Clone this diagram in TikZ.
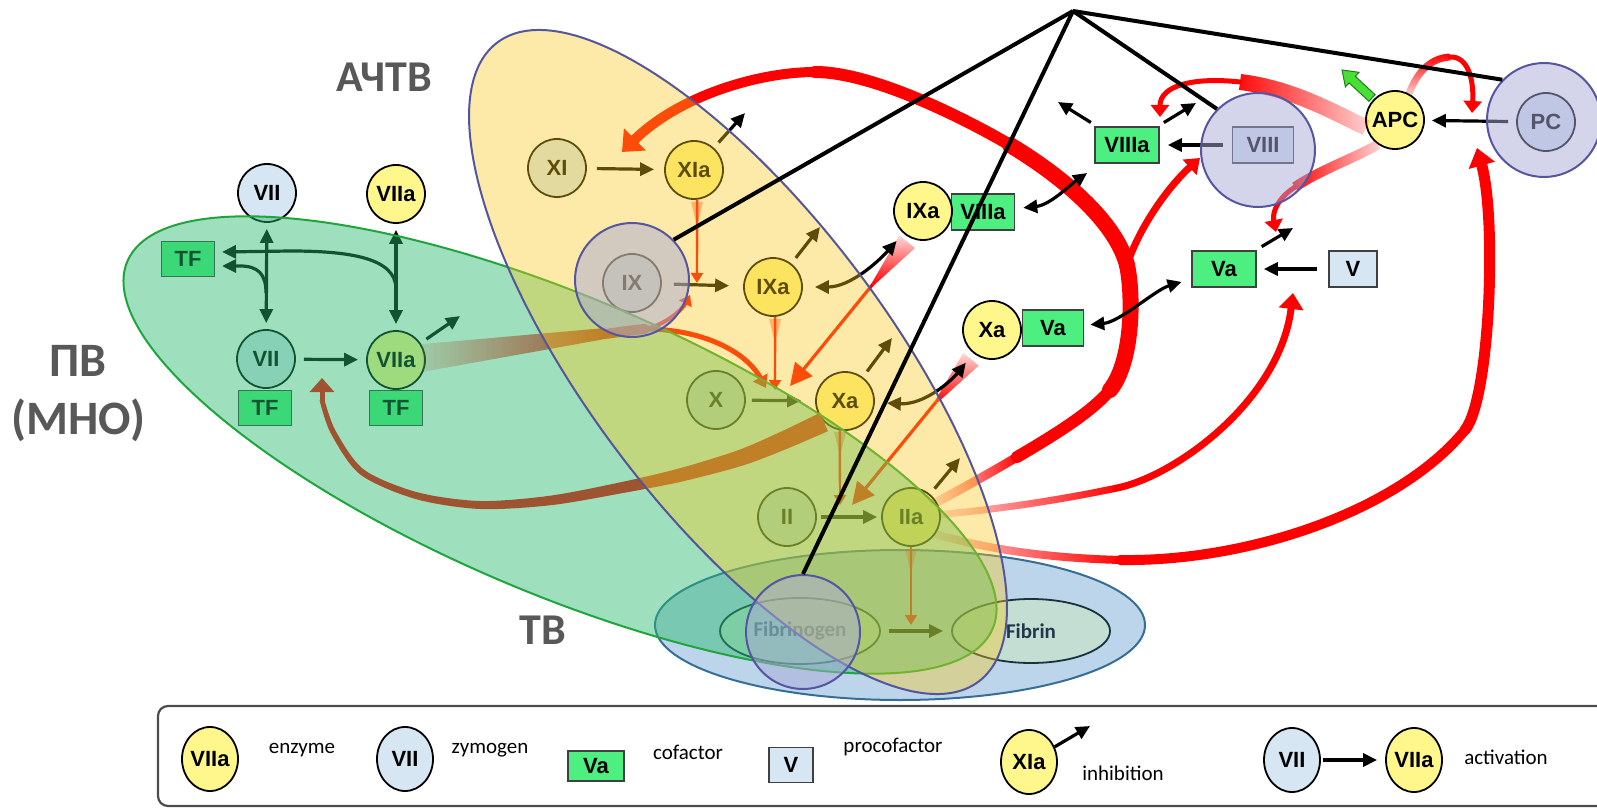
\documentclass[tikz,border=0pt]{standalone}
\usepackage{fontspec}
\setmainfont{Liberation Sans}
\newfontfamily\calib{Carlito}
\usetikzlibrary{arrows.meta,shapes.geometric,fadings}

\definecolor{enzC}{RGB}{255,246,140}
\definecolor{zymC}{RGB}{214,230,242}
\definecolor{cofC}{RGB}{77,240,128}
\definecolor{proC}{RGB}{214,230,242}
\definecolor{greenFill}{RGB}{40,187,109}
\definecolor{greenLine}{RGB}{30,165,60}
\definecolor{yelFill}{RGB}{249,200,27}
\definecolor{yelLine}{RGB}{85,85,155}
\definecolor{blueFill}{RGB}{63,134,197}
\definecolor{blueLine}{RGB}{55,110,150}
\definecolor{purFill}{RGB}{169,169,215}
\definecolor{purLine}{RGB}{85,85,160}
\definecolor{labelGray}{RGB}{88,88,88}
\definecolor{fibC}{RGB}{196,222,212}
\definecolor{fibLine}{RGB}{25,50,60}
\definecolor{fibText}{RGB}{35,55,75}
\definecolor{apcGreen}{RGB}{70,225,50}
\definecolor{apcEdge}{RGB}{40,120,40}

\tikzfading[name=fadeR, left color=transparent!85, right color=transparent!0]
\tikzfading[name=fadeL, left color=transparent!0, right color=transparent!85]
\tikzfading[name=fadeU, bottom color=transparent!85, top color=transparent!0]
\tikzfading[name=fadeD, top color=transparent!85, bottom color=transparent!0]

\tikzset{
  nodefont/.style={font=\bfseries\fontsize{11}{12}\selectfont},
  enz/.style={circle, draw=black, line width=0.9pt, fill=enzC, minimum size=29pt, inner sep=0pt, nodefont},
  zym/.style={enz, fill=zymC},
  cof/.style={rectangle, draw=black!75, line width=0.8pt, fill=cofC, minimum width=32pt, minimum height=18pt, inner sep=0pt, nodefont},
  procof/.style={cof, fill=proC},
  tf/.style={cof, minimum width=26.5pt, minimum height=17.5pt},
  legell/.style={ellipse, minimum width=28pt, minimum height=32pt},
  bigc/.style={circle, draw=purLine, line width=1pt, fill=purFill, fill opacity=0.5, minimum size=57pt, inner sep=0pt},
  act/.style={line width=1.6pt, -{Triangle[length=7pt,width=6.5pt]}, shorten <=4pt, shorten >=4pt},
  inh/.style={act, shorten <=3.5pt, shorten >=0pt},
  dbl/.style={line width=1.6pt, {Triangle[length=7pt,width=6.5pt]}-{Triangle[length=7pt,width=6.5pt]}, shorten <=5pt, shorten >=5pt},
  apexline/.style={line width=2pt, black},
  bandr/.style={draw=red, line cap=butt},
  bands/.style={draw=red, line cap=round},
  thinr/.style={red, line width=1.2pt, -{Triangle[length=5pt,width=6pt]}},
  wedge/.style={fill=red, fill opacity=0.35},
  biglabel/.style={font=\calib\bfseries\fontsize{22}{26}\selectfont, text=labelGray, align=center},
  legtext/.style={font=\calib\fontsize{10.5}{12}\selectfont},
  legframe/.style={draw=black!70, line width=1.1pt, rounded corners=5pt},
  fibnode/.style={ellipse, draw=fibLine, line width=0.9pt, fill=fibC, inner sep=0pt, text=fibText, font=\calib\bfseries\fontsize{10.5}{12}\selectfont}
}

\begin{document}
\begin{tikzpicture}[x=0.5pt, y=-0.5pt]
\useasboundingbox (0,0) rectangle (1597,808);
\clip (0,0) rectangle (1597,808);

% ---------- legend ----------
\draw[legframe] (158,706) rectangle (1680,806);
\node[enz, legell] (Lenz) at (210,759) {VIIa};
\node[legtext] (tEnz) at (302,750) {enzyme};
\node[zym, legell] (Lzym) at (405,759) {VII};
\node[legtext] (tZym) at (490,750) {zymogen};
\node[cof, minimum width=28pt, minimum height=15pt] (Lcof) at (596,766) {Va};
\node[legtext] (tCof) at (688,752) {cofactor};
\node[procof, minimum width=22pt, minimum height=17.5pt] (Lpro) at (791,765) {V};
\node[legtext] (tPro) at (893,747) {procofactor};
\node[enz, legell] (Linh) at (1029,762) {XIa};
\coordinate (LinhEnd) at (1090,726);
\draw[inh, shorten <=0pt] (Linh) -- (LinhEnd);
\node[legtext] (tInh) at (1123,773) {inhibition};
\node[zym, legell] (LVII) at (1292,760) {VII};
\node[enz, legell] (LVIIa) at (1414,760) {VIIa};
\draw[act, shorten <=1pt] (LVII) -- (LVIIa);
\node[legtext] (tAct) at (1506,757) {activation};

% ---------- thrombin time region ----------
\filldraw[fill=blueFill, fill opacity=0.35, draw=blueLine, line width=1pt] (900,625) ellipse [x radius=122.5pt, y radius=37.5pt];
\node[fibnode, minimum width=80pt, minimum height=33pt] (Fgen) at (800,631) {Fibrinogen};
\node[fibnode, minimum width=79pt, minimum height=32pt] (Fin) at (1031,631) {Fibrin};

% ---------- factors ----------
\node[zym] (VIIt) at (267,193) {VII};
\node[enz] (VIIat) at (396,194) {VIIa};
\node[tf] (TFt) at (188,259) {TF};
\node[zym] (VIIl) at (266,359) {VII};
\node[tf] (TFl) at (265,408) {TF};
\node[enz] (VIIal) at (396,360) {VIIa};
\node[tf] (TFal) at (396,408) {TF};

\node[zym] (XI) at (557,168) {XI};
\node[enz] (XIa) at (694,170) {XIa};
\node[zym] (IX) at (632,283) {IX};
\node[enz] (IXa) at (773,287) {IXa};
\node[zym] (X) at (716,400) {X};
\node[enz] (Xa) at (845,401) {Xa};
\node[zym] (II) at (787,517) {II};
\node[enz] (IIa) at (911,517) {IIa};

\node[cof, minimum width=31.5pt] (VIIIc) at (983,212) {VIIIa};
\node[enz] (IXc) at (923,211) {IXa};
\node[cof, minimum width=30.5pt] (Vc) at (1053,328) {Va};
\node[enz] (Xc) at (992,330) {Xa};

\node[cof] (VIIIa) at (1127,145) {VIIIa};
\node[procof, minimum width=30.5pt] (VIII) at (1263,145) {VIII};
\node[cof] (Va) at (1224,269) {Va};
\node[procof, minimum width=24pt] (V) at (1353,269) {V};
\node[enz] (APC) at (1395,120) {APC};
\node[zym] (PC) at (1546,122) {PC};

% ---------- free ends ----------
\coordinate (qA1) at (1017,457);
\coordinate (qA3) at (1110,390);
\coordinate (J) at (1127,265);
\coordinate (r1) at (1010,145);
\coordinate (r3) at (815,72);
\coordinate (tXI) at (622,152);
\coordinate (tVIII) at (1200,158);
\coordinate (qB1) at (1117,488);
\coordinate (tV) at (1293,293);
\coordinate (qC1) at (1120,560);
\coordinate (qC2) at (1465,430);
\coordinate (tPC) at (1477,148);
\coordinate (vS) at (605,334);
\coordinate (vJ) at (645,329);
\coordinate (tIXa) at (690,295);
\coordinate (tXa) at (766,388);
\coordinate (aVII) at (322,402);
\coordinate (tVII) at (322,378);
\coordinate (pa1) at (1240,82);
\coordinate (tVIIIa) at (1160,117);
\coordinate (pb1) at (1295,187);
\coordinate (tVa) at (1276,232);
\coordinate (pc1) at (1450,57);
\coordinate (tPC2) at (1472,113);
\coordinate (m1) at (873,284);
\coordinate (tXa2) at (790,386);
\coordinate (m2) at (936,402);
\coordinate (tIIa2) at (852,505);
\coordinate (tIX1) at (697,283);
\coordinate (tX1) at (775,390);
\coordinate (tII1) at (840,505);
\coordinate (tF1) at (911,625);

% ---------- thrombin feedback ----------
\draw[bandr, line width=4.5pt, path fading=fadeR] (IIa.30) .. controls (965,487) and (995,470) .. (qA1);
\draw[bands, line width=6pt] (qA1) .. controls (1051,437) and (1091,413) .. (qA3);
\draw[bands, line width=8pt] (qA3) .. controls (1132,363) and (1134,299) .. (J);
\draw[bands, line width=8pt] (J) .. controls (1115,220) and (1060,175) .. (r1);
\draw[bands, line width=6pt] (r1) .. controls (971,122) and (875,72) .. (r3);
\draw[bands, line width=5pt, -{Triangle[length=9pt,width=15pt]}] (r3) .. controls (760,72) and (680,95) .. (tXI);
\draw[bands, line width=3.5pt, -{Triangle[length=7pt,width=10pt]}] (J) .. controls (1140,225) and (1170,185) .. (tVIII);

\draw[bandr, line width=3.5pt, path fading=fadeR] (IIa.5) .. controls (990,510) and (1050,502) .. (qB1);
\draw[bands, line width=3.5pt, -{Triangle[length=8pt,width=12pt]}] (qB1) .. controls (1176,476) and (1280,400) .. (tV);

\draw[bandr, line width=4pt, path fading=fadeR] (IIa.-35) .. controls (990,550) and (1050,558) .. (qC1);
\draw[bands, line width=5pt] (qC1) .. controls (1250,562) and (1400,510) .. (qC2);
\draw[bands, line width=5.5pt, -{Triangle[length=9pt,width=13pt]}] (qC2) .. controls (1490,399) and (1497,220) .. (tPC);

% ---------- VIIa-TF activation of IX and X ----------
\fill[red, path fading=fadeR] (VIIal.32) -- (605,328) -- (605,339) -- (VIIal.-23) -- cycle;
\draw[bands, line width=5pt] (vS) .. controls (620,332) and (632,330) .. (vJ);
\draw[bands, line width=2pt, -{Triangle[length=5pt,width=7pt]}] (vJ) .. controls (665,325) and (682,310) .. (tIXa);
\draw[bands, line width=2.5pt, -{Triangle[length=6pt,width=8pt]}] (vJ) .. controls (700,329) and (745,350) .. (tXa);

% ---------- Xa back to VII (tapered band) ----------
\fill[red] plot[smooth] coordinates {(820.1,412.8) (778.5,432.8) (737.5,450.4) (678.9,468.5) (619.0,482.6) (549.5,495.8) (480.2,501.0) (417.1,492.2) (363.9,469.6) (335.7,431.0) (324.5,400)}
  -- plot[smooth] coordinates {(319.5,400) (330.7,433.2) (360.1,474.4) (415.5,499.0) (479.8,509.0) (550.9,505.2) (621.0,493.4) (682.1,481.5) (742.5,465.6) (785.9,449.2) (827.9,431.2)} -- cycle;
\draw[red, line width=2.5pt, -{Triangle[length=7pt,width=12pt]}] (aVII) -- (tVII);

% ---------- APC inactivation ----------
\draw[bandr, line width=8pt, path fading=fadeL] (APC.195) .. controls (1330,110) and (1290,88) .. (pa1);
\draw[bands, line width=2.5pt, -{Triangle[length=6pt,width=9pt]}] (pa1) .. controls (1195,77) and (1160,85) .. (tVIIIa);
\draw[bandr, line width=5pt, path fading=fadeL] (APC.235) .. controls (1355,158) and (1320,170) .. (pb1);
\draw[bands, line width=2.5pt, -{Triangle[length=6pt,width=9pt]}] (pb1) .. controls (1278,198) and (1272,212) .. (tVa);
\draw[bandr, line width=3.5pt, path fading=fadeU] (APC.62) .. controls (1418,70) and (1432,58) .. (pc1);
\draw[bands, line width=2.5pt, -{Triangle[length=6pt,width=9pt]}] (pc1) .. controls (1468,56) and (1474,80) .. (tPC2);

% ---------- complexes acting downstream ----------
\fill[red, path fading=fadeD] (915.0,248.0) -- (874.2,285.0) -- (871.8,283.0) -- (899.4,235.4) -- cycle;
\draw[bandr, line width=1.6pt, -{Triangle[length=11pt,width=11pt]}] (m1) -- (tXa2);
\fill[red, path fading=fadeD] (978.8,365.6) -- (937.4,402.8) -- (935.0,400.9) -- (963.3,353.0) -- cycle;
\draw[bandr, line width=1.6pt, -{Triangle[length=11pt,width=11pt]}] (m2) -- (tIIa2);

% ---------- thin catalysis arrows ----------
\fill[wedge] (691,202) -- (703,202) -- (697,226) -- cycle;
\draw[thinr] (XIa.-84) -- (tIX1);
\fill[wedge] (769,319) -- (781,319) -- (775,343) -- cycle;
\draw[thinr] (IXa.-86) -- (tX1);
\fill[wedge] (834,432) -- (846,432) -- (840,456) -- cycle;
\draw[thinr] (Xa.-100) -- (tII1);
\fill[wedge] (905,549) -- (917,549) -- (911,573) -- cycle;
\draw[thinr] (IIa.south) -- (tF1);

% ---------- black arrows ----------
\coordinate (j1) at (396,288);
\coordinate (j2) at (266,293);
\coordinate (tf1) at (222,252);
\coordinate (tf2) at (222,266);
\draw[dbl, shorten <=3pt, shorten >=3pt] (VIIt) -- (VIIl);
\draw[dbl, shorten <=3pt, shorten >=3pt] (VIIat) -- (VIIal);
\draw[act, shorten <=0pt, shorten >=0pt] (j1) .. controls (395,258) and (350,251) .. (290,251) -- (tf1);
\draw[act, shorten <=0pt, shorten >=0pt] (j2) .. controls (266,274) and (258,266) .. (240,266) -- (tf2);
\draw[act] (VIIl) -- (VIIal);

\coordinate (iVIIa) at (460,316);
\coordinate (iXIa) at (745,113);
\coordinate (iIXa) at (820,227);
\coordinate (iXa) at (892,338);
\coordinate (iIIa) at (960,458);
\coordinate (iVIIIa1) at (1058,102);
\coordinate (iVIIIa2) at (1196,103);
\coordinate (iVa) at (1293,228);

\draw[inh] (VIIal) -- (iVIIa);
\draw[act, shorten <=5pt, shorten >=5pt] (XI) -- (XIa);
\draw[inh] (XIa) -- (iXIa);
\draw[act, shorten <=6pt, shorten >=7pt] (IX) -- (IXa);
\draw[inh] (IXa) -- (iIXa);
\draw[dbl, shorten <=6pt] (IXa) .. controls (850,287) and (878,262) .. (IXc);
\draw[act, shorten <=3pt, shorten >=7pt] (X) -- (Xa);
\draw[inh] (Xa) -- (iXa);
\draw[dbl, shorten <=6pt, shorten >=6pt] (Xa) .. controls (925,405) and (952,380) .. (Xc);
\draw[act, shorten <=2pt, shorten >=2pt] (II) -- (IIa);
\draw[inh] (IIa) -- (iIIa);
\draw[act] (Fgen) -- (Fin);
\draw[dbl, shorten <=4pt, shorten >=8pt] (VIIIc) .. controls (1050,205) and (1070,185) .. (VIIIa);
\draw[dbl, shorten <=3pt, shorten >=5pt] (Vc) .. controls (1120,322) and (1155,290) .. (Va);
\draw[act, shorten <=4.5pt] (VIII) -- (VIIIa);
\draw[inh] (VIIIa) -- (iVIIIa1);
\draw[inh] (VIIIa) -- (iVIIIa2);
\draw[act, shorten <=5.5pt, shorten >=3.5pt] (V) -- (Va);
\draw[inh] (Va) -- (iVa);
\draw[act, shorten >=3.5pt] (PC) -- (APC);

% APC export arrow
\filldraw[fill=apcGreen, draw=apcEdge, line width=0.5pt] (1375.1,94.7) -- (1355.3,76.3) -- (1359.0,72.3) -- (1342,70) -- (1345.4,86.9) -- (1349.1,82.9) -- (1368.9,101.3) -- cycle;

% ---------- test regions ----------
\fill[greenFill, fill opacity=0.45, rotate around={-23:(560,445)}] (560,445) ellipse [x radius=235pt, y radius=74pt];
\draw[greenLine, line width=1pt, rotate around={-23:(560,445)}] (560,445) ellipse [x radius=235pt, y radius=74pt];
\fill[yelFill, fill opacity=0.38, rotate around={-53:(738,362)}] (738,362) ellipse [x radius=200pt, y radius=75pt];
\draw[yelLine, line width=1pt, rotate around={-53:(738,362)}] (738,362) ellipse [x radius=200pt, y radius=75pt];

% ---------- vitamin K dependent markers ----------
\node[bigc] (IXbig) at (632,280) {};
\node[bigc] (VIIIbig) at (1258,150) {};
\node[bigc] (Fbig) at (803,632) {};
\node[bigc] (PCbig) at (1544,120) {};
\coordinate (apex) at (1073,11);
\draw[apexline] (apex) -- (IXbig.44);
\draw[apexline] (apex) -- (Fbig.north);
\draw[apexline] (apex) -- (VIIIbig.135);
\draw[apexline] (apex) -- (PCbig.136);

% ---------- test labels ----------
\node[biglabel] (lAPTT) at (384,77) {АЧТВ};
\node[biglabel, font=\calib\bfseries\fontsize{24}{29}\selectfont] (lPT) at (78,394) {ПВ\\(МНО)};
\node[biglabel] (lTT) at (543,630) {ТВ};
\end{tikzpicture}
\end{document}
